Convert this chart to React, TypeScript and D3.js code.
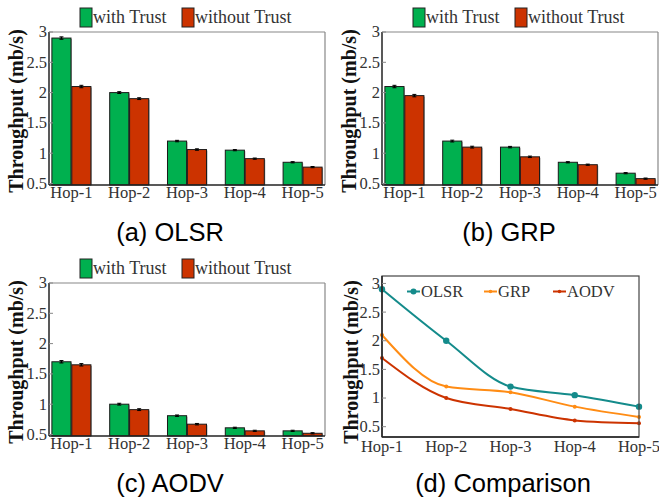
import React from 'react';
import * as d3 from 'd3';

const hops = ['Hop-1', 'Hop-2', 'Hop-3', 'Hop-4', 'Hop-5'];
const barSeries = ['with Trust', 'without Trust'];
const barColors = ['#00b04f', '#cc3300'];

const olsrWith = [2.9, 2.0, 1.2, 1.05, 0.85];
const olsrWithout = [2.1, 1.9, 1.06, 0.91, 0.77];
const grpWith = [2.1, 1.2, 1.1, 0.85, 0.67];
const grpWithout = [1.95, 1.1, 0.94, 0.81, 0.58];
const aodvWith = [1.7, 1.0, 0.81, 0.61, 0.56];
const aodvWithout = [1.65, 0.91, 0.67, 0.56, 0.52];
const errBars = [0.02, 0.015, 0.012, 0.01, 0.01];

const yTicks = [0.5, 1, 1.5, 2, 2.5, 3];

const lineNames = ['OLSR', 'GRP', 'AODV'];
const lineColors = ['#148b8b', '#ff8c14', '#cc3300'];
const lineData = [olsrWith, grpWith, aodvWith];

const serif = '"Liberation Serif", "DejaVu Serif", serif';
const sans = '"Liberation Sans", Arial, sans-serif';
const fmt = d3.format('~g');

type BarProps = {
  left: number; top: number; w: number; h: number;
  withV: number[]; withoutV: number[]; caption: string; captionX: number;
};

function YAxis({ y, left, labelX, midY }: { y: d3.ScaleLinear<number, number>; left: number; labelX: number; midY: number }) {
  return (
    <g>
      {yTicks.map(t => (
        <g key={t}>
          <line x1={left} x2={left + 4} y1={y(t)} y2={y(t)} stroke="#888" strokeWidth={1} />
          <text x={left - 2} y={y(t)} dy="0.33em" textAnchor="end" fontFamily={serif} fontSize={16.5} fill="#333">{fmt(t)}</text>
        </g>
      ))}
      <text transform={`translate(${labelX},${midY}) rotate(-90)`} textAnchor="middle" fontFamily={serif} fontWeight="bold" fontSize={20} fill="#111">Throughput (mb/s)</text>
    </g>
  );
}

function BarPanel({ left, top, w, h, withV, withoutV, caption, captionX }: BarProps) {
  const x = d3.scaleBand<string>().domain(hops).range([left, left + w]).paddingInner(0.325).paddingOuter(0.05);
  const xs = d3.scaleBand<string>().domain(barSeries).range([0, x.bandwidth()]).paddingInner(0.04);
  const y = d3.scaleLinear().domain([0.475, 3]).range([top + h, top]);
  const vals = [withV, withoutV];
  return (
    <g>
      {/* legend */}
      {barSeries.map((s, i) => {
        const px = left + (i === 0 ? 31 : 133);
        return (
          <g key={s}>
            <rect x={px} y={top - 24} width={12} height={19} fill={barColors[i]} stroke="#222" strokeWidth={1} />
            <text x={px + 13} y={top - 9} fontFamily={serif} fontSize={18} fill="#333">{s}</text>
          </g>
        );
      })}
      {/* bars */}
      {hops.map((hp, j) => (
        <g key={hp}>
          {barSeries.map((s, i) => {
            const v = vals[i][j];
            const bx = (x(hp) as number) + (xs(s) as number);
            const bw = xs.bandwidth();
            const cx = bx + bw / 2;
            return (
              <g key={s}>
                <rect x={bx + 1} y={y(v) + 1} width={bw} height={y(0.475) - y(v) - 1} fill="#aaa" />
                <rect x={bx} y={y(v)} width={bw} height={y(0.475) - y(v)} fill={barColors[i]} stroke="#1a1a1a" strokeWidth={1} />
                <line x1={cx} x2={cx} y1={y(v + errBars[j])} y2={y(v - errBars[j])} stroke="#000" strokeWidth={1.5} />
                <line x1={cx - 2} x2={cx + 2} y1={y(v + errBars[j])} y2={y(v + errBars[j])} stroke="#000" strokeWidth={1} />
                <line x1={cx - 2} x2={cx + 2} y1={y(v - errBars[j])} y2={y(v - errBars[j])} stroke="#000" strokeWidth={1} />
              </g>
            );
          })}
          <text x={(x(hp) as number) + x.bandwidth() / 2} y={top + h + 13} fontFamily={serif} fontSize={16.5} fill="#333" textAnchor="middle">{hp}</text>
        </g>
      ))}
      {/* frame */}
      <line x1={left} x2={left + w} y1={top} y2={top} stroke="#888" strokeWidth={1.2} />
      <line x1={left + w} x2={left + w} y1={top} y2={top + h} stroke="#888" strokeWidth={1.2} />
      <line x1={left} x2={left} y1={top} y2={top + h} stroke="#222" strokeWidth={1.5} />
      <line x1={left} x2={left + w} y1={top + h} y2={top + h} stroke="#222" strokeWidth={1.5} />
      <YAxis y={y} left={left} labelX={left - 26} midY={top + 79} />
      <text x={captionX} y={top + 209} textAnchor="middle" fontFamily={sans} fontSize={25.5} fill="#000">{caption}</text>
    </g>
  );
}

function LinePanel() {
  const left = 382, top = 276, w = 257, h = 161;
  const x = d3.scalePoint<string>().domain(hops).range([left, left + w]);
  const y = d3.scaleLinear().domain([0.32, 3.13]).range([top + h, top]);
  const line = d3.line<number>().x((_, i) => x(hops[i]) as number).y(d => y(d)).curve(d3.curveMonotoneX);
  const legendX = [407, 484, 553];
  return (
    <g>
      {lineData.map((vals, k) => (
        <g key={lineNames[k]}>
          <path d={line(vals) || ''} fill="none" stroke={lineColors[k]} strokeWidth={2} />
          {vals.map((v, i) => (
            <circle key={i} cx={x(hops[i])} cy={y(v)} r={k === 0 ? 3.2 : 2} fill={lineColors[k]} />
          ))}
        </g>
      ))}
      {lineNames.map((n, k) => (
        <g key={n}>
          <line x1={legendX[k]} x2={legendX[k] + 13} y1={top + 15.5} y2={top + 15.5} stroke={lineColors[k]} strokeWidth={2} />
          <circle cx={legendX[k] + 6.5} cy={top + 15.5} r={k === 0 ? 3 : 1.8} fill={lineColors[k]} />
          <text x={legendX[k] + 14} y={top + 21} fontFamily={serif} fontSize={16.5} fill="#333">{n}</text>
        </g>
      ))}
      <rect x={left} y={top} width={w} height={h} fill="none" stroke="#444" strokeWidth={1.2} />
      <line x1={left} x2={left} y1={top} y2={top + h} stroke="#222" strokeWidth={1.5} />
      <line x1={left} x2={left + w} y1={top + h} y2={top + h} stroke="#222" strokeWidth={1.5} />
      {hops.map(hp => (
        <text key={hp} x={x(hp)} y={top + h + 15} fontFamily={serif} fontSize={16.5} fill="#333" textAnchor="middle">{hp}</text>
      ))}
      <YAxis y={y} left={left} labelX={358} midY={362} />
      <text x={503} y={492} textAnchor="middle" fontFamily={sans} fontSize={25.5} fill="#000">(d) Comparison</text>
    </g>
  );
}

export default function App() {
  return (
    <svg width={659} height={498} style={{ position: 'absolute', left: 0, top: 0, background: '#fff' }}>
      <rect width={659} height={498} fill="#fff" />
      <BarPanel left={49} top={32} w={276} h={153} withV={olsrWith} withoutV={olsrWithout} caption="(a) OLSR" captionX={170} />
      <BarPanel left={382} top={32} w={276} h={153} withV={grpWith} withoutV={grpWithout} caption="(b) GRP" captionX={509} />
      <BarPanel left={49} top={283} w={276} h={153} withV={aodvWith} withoutV={aodvWithout} caption="(c) AODV" captionX={170} />
      <LinePanel />
    </svg>
  );
}
